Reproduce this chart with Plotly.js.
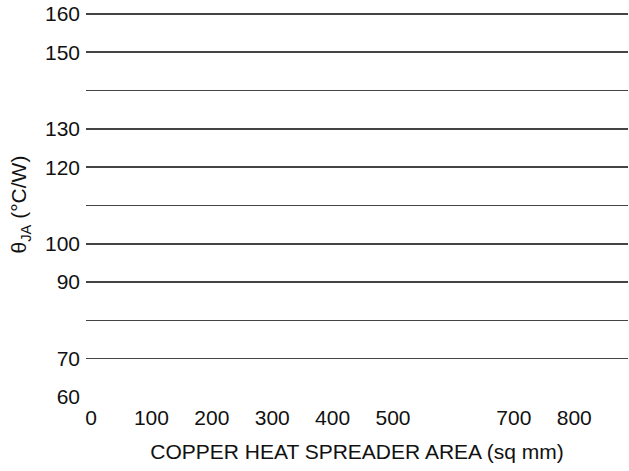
<!DOCTYPE html>
<html>
<head>
<meta charset="utf-8">
<script src="https://cdn.plot.ly/plotly-3.0.1.min.js"></script>
<style>
  html, body { margin: 0; padding: 0; background: #fff; }
  #chart { width: 629px; height: 471px; }
</style>
</head>
<body>
<div id="chart"></div>
<script>
// Axis ticks: labelled values and the horizontal rules
const xTickVals = [0, 100, 200, 300, 400, 500, 700, 800];
const xTickText = ['0', '100', '200', '300', '400', '500', '700', '800'];
const yLabelVals = [60, 70, 90, 100, 120, 130, 150, 160];
const yLabelText = ['60', '70', '90', '100', '120', '130', '150', '160'];
const yGridVals = [70, 80, 90, 100, 110, 120, 130, 140, 150, 160];

const xRange = [-8.3, 889];
const yRange = [60, 160.5];

const font = { family: 'Liberation Sans, Arial, sans-serif', size: 21, color: '#111' };

const data = [
  { x: [], y: [], type: 'scatter', mode: 'lines', xaxis: 'x', yaxis: 'y', showlegend: false },
  { x: [], y: [], type: 'scatter', mode: 'lines', xaxis: 'x', yaxis: 'y2', showlegend: false }
];

const layout = {
  width: 629,
  height: 471,
  margin: { l: 86, r: 1, t: 12, b: 74 },
  paper_bgcolor: '#fff',
  plot_bgcolor: '#fff',
  font: font,
  showlegend: false,
  xaxis: {
    range: xRange,
    tickmode: 'array',
    tickvals: xTickVals,
    ticktext: xTickText,
    showgrid: false,
    zeroline: false,
    showline: false,
    ticks: '',
    ticklabelstandoff: 6,
    tickfont: font,
    title: { text: 'COPPER HEAT SPREADER AREA (sq mm)', font: font, standoff: 16 }
  },
  yaxis: {
    range: yRange,
    tickmode: 'array',
    tickvals: yLabelVals,
    ticktext: yLabelText,
    showgrid: false,
    zeroline: false,
    showline: false,
    ticks: '',
    ticklabelstandoff: 5,
    tickfont: font,
    title: { text: 'θ<sub>JA</sub> (°C/W)', font: font, standoff: 12 }
  },
  yaxis2: {
    range: yRange,
    overlaying: 'y',
    side: 'left',
    tickmode: 'array',
    tickvals: yGridVals,
    showticklabels: false,
    showgrid: true,
    gridcolor: '#444444',
    gridwidth: 1.5,
    zeroline: false,
    showline: false,
    ticks: ''
  }
};

Plotly.newPlot('chart', data, layout, { staticPlot: true, displayModeBar: false });
</script>
</body>
</html>
